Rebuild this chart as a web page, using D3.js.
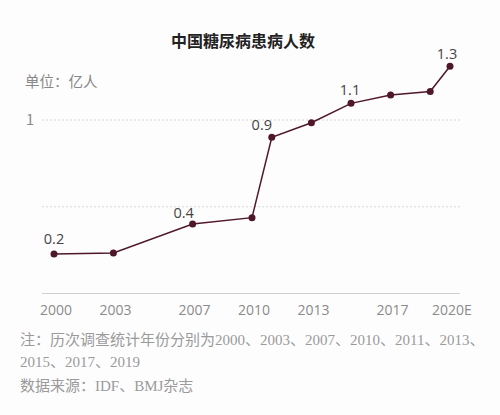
<!DOCTYPE html>
<html>
<head>
<meta charset="utf-8">
<script src="https://cdn.jsdelivr.net/npm/d3@7"></script>
<style>
  body { margin: 0; background: #fefdfe; }
  svg { display: block; }
  .title { font-family: "Noto Sans CJK SC", sans-serif; font-weight: bold; font-size: 16px; fill: #222; }
  .unit { font-family: "Noto Sans CJK SC", sans-serif; font-size: 14.5px; fill: #888; }
  .tick-label { font-family: "Open Sans", "Noto Sans", sans-serif; font-size: 14px; fill: #8a8a8a; }
  .value-label { font-family: "Open Sans", "Noto Sans", sans-serif; font-size: 14.5px; fill: #444; }
  .note { font-family: "Liberation Serif", "Noto Sans CJK SC", serif; font-size: 15px; fill: #9a9a9a; }
</style>
</head>
<body>
<div id="chart"></div>
<script>
// Data
const years = [2000, 2003, 2007, 2010, 2011, 2013, 2015, 2017, 2019, 2020]
const patients = [0.227, 0.234, 0.40, 0.437, 0.90, 0.984, 1.096, 1.144, 1.164, 1.31]
const valueLabels = {2000: "0.2", 2007: "0.4", 2011: "0.9", 2015: "1.1", 2020: "1.3"}
const xTicks = [2000, 2003, 2007, 2010, 2013, 2017, 2020]
const xTickLabels = ["2000", "2003", "2007", "2010", "2013", "2017", "2020E"]
const yGrid = [0.5, 1]

// Dimensions
const width = 500
const height = 415
const lineColor = "#4e1828"
// label nudges, in px, relative to its point
const labelShift = {2000: [0, -10], 2007: [-9, -6], 2011: [-10, -7], 2015: [-1, -8], 2020: [-3, -7]}

const svg = d3.select("#chart")
  .append("svg")
    .attr("width", width)
    .attr("height", height)

const x = d3.scaleLinear().domain([2000, 2020]).range([54, 450])
const y = d3.scaleLinear().domain([0, 1]).range([293.5, 120])

svg.append("text")
  .attr("class", "title")
  .attr("x", 243)
  .attr("y", 47)
  .attr("text-anchor", "middle")
  .text("中国糖尿病患病人数")

svg.append("text")
  .attr("class", "unit")
  .attr("x", 25)
  .attr("y", 87)
  .text("单位：亿人")

// gridlines
svg.selectAll(".grid")
  .data(yGrid)
  .enter().append("line")
  .attr("x1", 42)
  .attr("x2", 460)
  .attr("y1", d => y(d))
  .attr("y2", d => y(d))
  .attr("stroke", "#d6d6d6")
  .attr("stroke-width", 1)
  .attr("stroke-dasharray", "2,2")

svg.append("text")
  .attr("class", "unit")
  .attr("x", 26)
  .attr("y", y(1) + 5)
  .text("1")

// baseline
svg.append("line")
  .attr("x1", 42)
  .attr("x2", 460)
  .attr("y1", y(0))
  .attr("y2", y(0))
  .attr("stroke", "#cfcfcf")
  .attr("stroke-width", 1)

svg.selectAll(".tick-label")
  .data(xTicks)
  .enter().append("text")
  .attr("class", "tick-label")
  .attr("x", d => x(d) + 2)
  .attr("y", 315)
  .attr("text-anchor", "middle")
  .text((d, i) => xTickLabels[i])

const line = d3.line()
  .x((d, i) => x(years[i]))
  .y(d => y(d))

svg.append("path")
  .datum(patients)
  .attr("d", line)
  .attr("fill", "none")
  .attr("stroke", lineColor)
  .attr("stroke-width", 1.5)

svg.selectAll(".dot")
  .data(patients)
  .enter().append("circle")
  .attr("cx", (d, i) => x(years[i]))
  .attr("cy", d => y(d))
  .attr("r", 3.5)
  .attr("fill", lineColor)

svg.selectAll(".value-label")
  .data(years.filter(d => valueLabels[d]))
  .enter().append("text")
  .attr("class", "value-label")
  .attr("x", d => x(d) + labelShift[d][0])
  .attr("y", d => y(patients[years.indexOf(d)]) + labelShift[d][1])
  .attr("text-anchor", "middle")
  .text(d => valueLabels[d])

// notes
const notes = [
  "注：历次调查统计年份分别为2000、2003、2007、2010、2011、2013、",
  "2015、2017、2019",
  "数据来源：IDF、BMJ杂志"
]
const noteY = [345, 367, 391]

svg.selectAll(".note")
  .data(notes)
  .enter().append("text")
  .attr("class", "note")
  .attr("x", 20)
  .attr("y", (d, i) => noteY[i])
  .text(d => d)
</script>
</body>
</html>
